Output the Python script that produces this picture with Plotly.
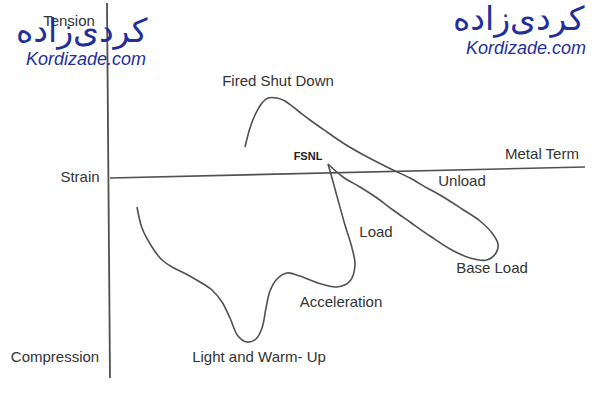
import plotly.graph_objects as go

# Diagram coordinates (x to the right, y downward)
axis_v_x = [107, 110]
axis_v_y = [3, 378]
metal_x = [110, 585]
metal_y = [178, 167]

startup_x = [137, 142, 152, 161, 172, 186, 200, 212, 222, 230, 238, 247, 256, 262, 266, 270, 277, 287, 300, 318, 337, 350, 355, 352, 345, 338, 332, 328]
startup_y = [207, 228, 247, 259, 267, 274, 282, 290, 302, 318, 336, 342, 339, 328, 308, 291, 279, 273, 276, 283, 287, 281, 265, 248, 225, 200, 178, 164]

loop_x = [328, 343, 360, 377, 393, 410, 430, 450, 470, 487, 496, 498, 492, 480, 462, 440, 427, 410, 393, 377, 360, 343, 327, 310, 297, 285, 277, 268, 262, 255, 250, 245]
loop_y = [164, 177, 187, 198, 210, 222, 236, 249, 258, 260, 253, 244, 233, 221, 209, 195, 188, 178, 170, 162, 153, 143, 132, 120, 110, 101, 98, 98, 103, 115, 128, 147]

label_text = ["Tension", "Fired Shut Down", "Metal Term", "Strain", "Unload", "Load", "Base Load", "Acceleration", "Compression", "Light and Warm- Up"]
label_x = [69, 278, 542, 80, 462, 376, 492, 341, 55, 259]
label_y = [22, 82, 155, 178, 182, 233, 269, 303, 358, 358]

line_color = "#505050"
fig = go.Figure()
fig.add_trace(go.Scatter(x=axis_v_x, y=axis_v_y, mode="lines", line=dict(color=line_color, width=1.8), hoverinfo="skip"))
fig.add_trace(go.Scatter(x=metal_x, y=metal_y, mode="lines", line=dict(color=line_color, width=1.6), hoverinfo="skip"))
fig.add_trace(go.Scatter(x=startup_x, y=startup_y, mode="lines", line=dict(color=line_color, width=1.6, shape="spline", smoothing=1.0), hoverinfo="skip"))
fig.add_trace(go.Scatter(x=loop_x, y=loop_y, mode="lines", line=dict(color=line_color, width=1.6, shape="spline", smoothing=1.0), hoverinfo="skip"))
fig.add_trace(go.Scatter(x=label_x, y=label_y, mode="text", text=label_text,
                         textfont=dict(family="Liberation Sans, Arial", size=15, color="#333333"), hoverinfo="skip"))
fig.add_trace(go.Scatter(x=[308], y=[157], mode="text", text=["<b>FSNL</b>"],
                         textfont=dict(family="Liberation Sans, Arial", size=11, color="#222222"), hoverinfo="skip"))

# Watermarks
wm_color = "#1f2f9c"
for (px, py, sx, sy) in [(82, 30, 86, 59), (519, 18, 526, 48)]:
    fig.add_annotation(x=px, y=py, text="کردی‌زاده", showarrow=False,
                       font=dict(family="DejaVu Sans", size=33, color=wm_color))
    fig.add_annotation(x=sx, y=sy, text="<i>Kordizade.com</i>", showarrow=False,
                       font=dict(family="Liberation Sans, Arial", size=18, color=wm_color))

fig.update_layout(width=602, height=405, margin=dict(l=0, r=0, t=0, b=0),
                  paper_bgcolor="white", plot_bgcolor="white", showlegend=False,
                  xaxis=dict(range=[0, 602], visible=False, fixedrange=True),
                  yaxis=dict(range=[405, 0], visible=False, fixedrange=True))
fig.write_html("out.html", config={"displayModeBar": False},
               post_script="document.body.style.margin='0';document.body.style.overflow='hidden';")
